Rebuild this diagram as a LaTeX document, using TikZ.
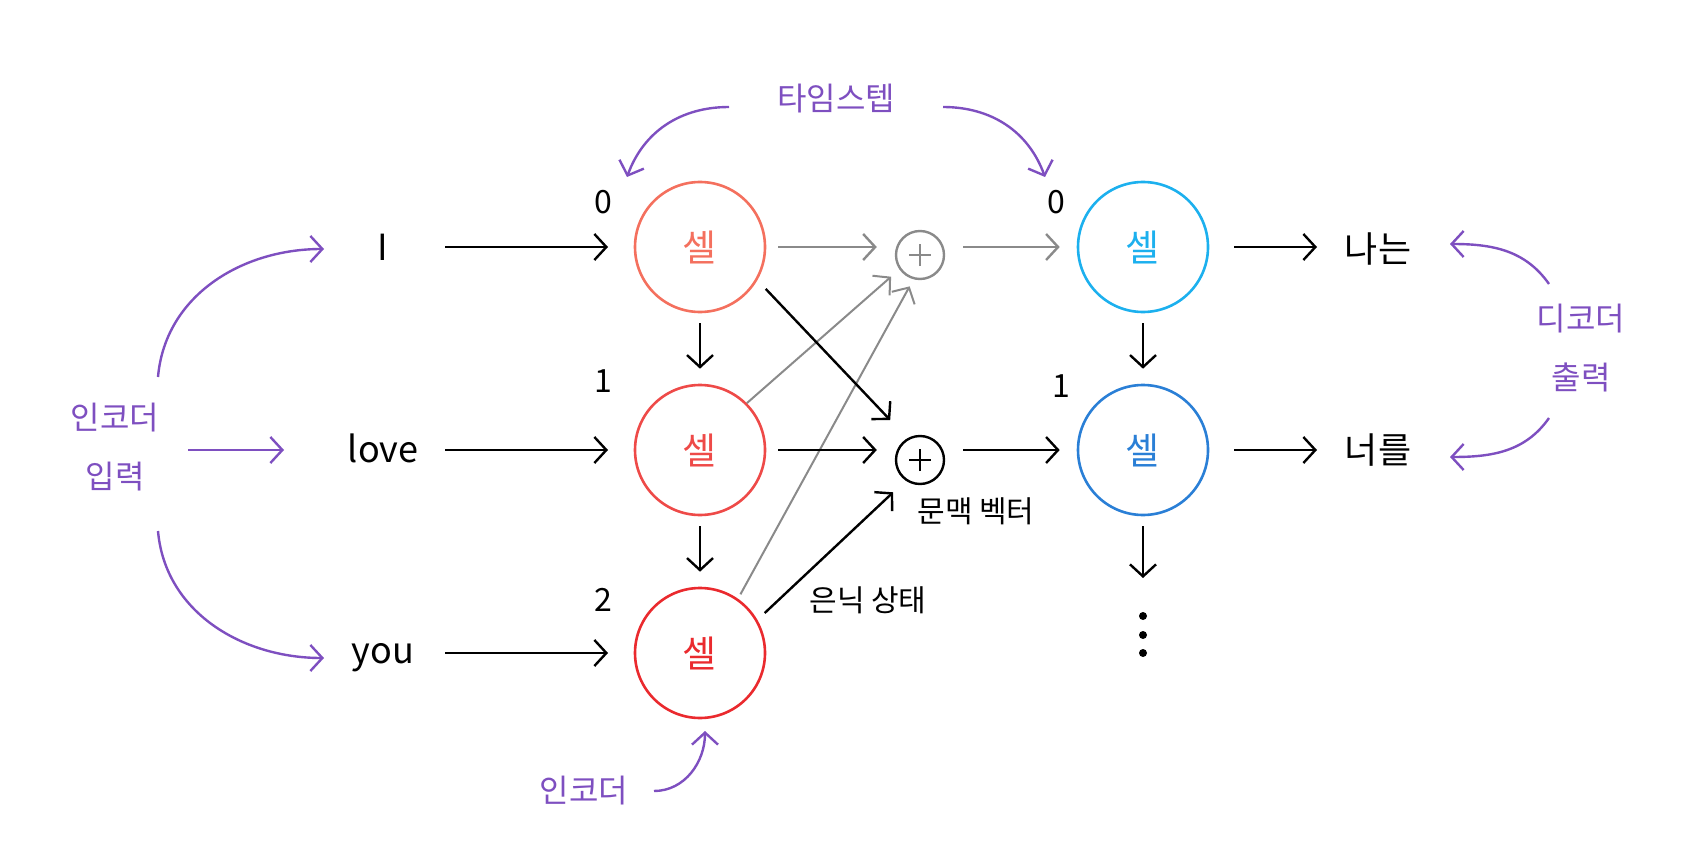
\documentclass[tikz,border=0pt]{standalone}
\usepackage{fontspec}
\setmainfont{Noto Sans CJK KR}
\usetikzlibrary{arrows.meta}
\definecolor{purp}{HTML}{7E4FC0}
\definecolor{cA}{HTML}{F4705E}
\definecolor{cB}{HTML}{EE4A48}
\definecolor{cC}{HTML}{EA2A2E}
\definecolor{dA}{HTML}{1CB0EE}
\definecolor{dB}{HTML}{2A7FD6}
\definecolor{gr}{HTML}{8A8A8A}
\begin{document}
\begin{tikzpicture}[x=1pt,y=-1pt,
  cell/.style={circle,draw,line width=2.6pt,minimum size=130pt,inner sep=0pt,font=\fontsize{37}{44}\selectfont},
  plus/.style={circle,draw,line width=2.4pt,minimum size=48pt,inner sep=0pt,
    path picture={\draw[line width=2.4pt] ([xshift=-11pt]path picture bounding box.center) -- ([xshift=11pt]path picture bounding box.center);
                  \draw[line width=2.4pt] ([yshift=-11pt]path picture bounding box.center) -- ([yshift=11pt]path picture bounding box.center);}},
  arr/.style={line width=2.4pt,-{Straight Barb[length=12pt,width=26pt]}},
  word/.style={font=\fontsize{36}{42}\selectfont},
  lab/.style={font=\fontsize{30}{36}\selectfont},
  num/.style={font=\fontsize{32}{38}\selectfont},
  pl/.style={text=purp,font=\fontsize{32}{59}\selectfont,align=center},
  parr/.style={arr,draw=purp},
  dot/.style={circle,fill,inner sep=0pt,minimum size=8pt}]
\useasboundingbox (0,0) rectangle (1681,861);
% cells
\node[cell,draw=cA,text=cA] (e0) at (700,247) {셀};
\node[cell,draw=cB,text=cB] (e1) at (700,450) {셀};
\node[cell,draw=cC,text=cC] (e2) at (700,653) {셀};
\node[cell,draw=dA,text=dA] (d0) at (1143,247) {셀};
\node[cell,draw=dB,text=dB] (d1) at (1143,450) {셀};
\node[plus,draw=gr,gr] (p0) at (920,255) {};
\node[plus,draw=black] (p1) at (920,460) {};
% words
\node[word] (in0) at (383,247) {I};
\node[word] (in1) at (383,448) {love};
\node[word] (in2) at (383,658) {you};
\node[word] (out0) at (1378,249) {나는};
\node[word] (out1) at (1378,450) {너를};
% step labels
\node[num] (t0) at (603,202) {0};
\node[num] (t1) at (603,381) {1};
\node[num] (t2) at (603,600) {2};
\node[num] (u0) at (1056,202) {0};
\node[num] (u1) at (1061,386) {1};
\node[lab] (ctx) at (976,511) {문맥 벡터};
\node[lab] (hid) at (868,600) {은닉 상태};
% dots
\node[dot] (k1) at (1143,616) {};
\node[dot] (k2) at (1143,635) {};
\node[dot] (k3) at (1143,653) {};
% purple labels
\node[pl] (encin) at (115,447) {인코더\\입력};
\node[pl] (decout) at (1581,348) {디코더\\출력};
\node[pl] (tstep) at (836,99) {타임스텝};
\node[pl] (enc) at (584,791) {인코더};
% input arrows
\draw[arr,shorten <=62pt,shorten >=92pt] (in0.center) -- (e0.center);
\draw[arr,shorten <=62pt,shorten >=92pt] (in1.center |- e1) -- (e1.center);
\draw[arr,shorten <=62pt,shorten >=92pt] (in2.center |- e2) -- (e2.center);
% output arrows
\draw[arr,shorten <=25pt,shorten >=61pt] (d0.east) -- (out0.center |- d0.east);
\draw[arr,shorten <=25pt,shorten >=61pt] (d1.east) -- (out1.center |- d1.east);
% vertical arrows
\draw[arr,shorten <=10pt,shorten >=15pt] (e0.south) -- (e1.north);
\draw[arr,shorten <=10pt,shorten >=15pt] (e1.south) -- (e2.north);
\draw[arr,shorten <=10pt,shorten >=15pt] (d0.south) -- (d1.north);
\draw[arr,shorten <=10pt,shorten >=38pt] (d1.south) -- (k1.center);
% gray connections
\draw[arr,gr,shorten <=12pt,shorten >=18pt] (e0.east) -- (p0.west |- e0.east);
\draw[arr,gr,shorten <=18pt,shorten >=17pt] (p0.east |- d0.west) -- (d0.west);
\draw[arr,gr,line width=2pt,shorten >=11pt] (e1.45) -- (p0.215);
\draw[arr,gr,line width=2pt,shorten <=5pt,shorten >=8pt] (e2.55) -- (p0.255);
% black connections
\draw[arr,shorten <=12pt,shorten >=18pt] (e1.east) -- (p1.west |- e1.east);
\draw[arr,shorten <=18pt,shorten >=17pt] (p1.east |- d1.west) -- (d1.west);
\draw[arr,shorten <=12pt,shorten >=25pt] (e0.-30) -- (p1.120);
\draw[arr,shorten <=10pt,shorten >=17pt] (e2.30) -- (p1.235);
% purple arrows
\coordinate (a1s) at (158,377);
\coordinate (a1e) at (324,249);
\coordinate (a2s) at (188,450);
\coordinate (a2e) at (284,450);
\coordinate (a3s) at (158,531);
\coordinate (a3e) at (324,658);
\coordinate (b1s) at (729,107);
\coordinate (b1e) at (627,177);
\coordinate (b2s) at (943,107);
\coordinate (b2e) at (1045,177);
\coordinate (c1s) at (1549,284);
\coordinate (c1e) at (1450,244);
\coordinate (c2s) at (1549,418);
\coordinate (c2e) at (1450,457);
\coordinate (g1s) at (654,791);
\coordinate (g1e) at (705,731);
\draw[parr] (a1s) to[out=85,in=180] (a1e);
\draw[parr] (a2s) -- (a2e);
\draw[parr] (a3s) to[out=-85,in=180] (a3e);
\draw[parr] (b1s) to[out=180,in=70] (b1e);
\draw[parr] (b2s) to[out=0,in=110] (b2e);
\draw[parr] (c1s) to[out=125,in=0] (c1e);
\draw[parr] (c2s) to[out=-125,in=0] (c2e);
\draw[parr] (g1s) to[out=0,in=-90] (g1e);
\end{tikzpicture}
\end{document}
